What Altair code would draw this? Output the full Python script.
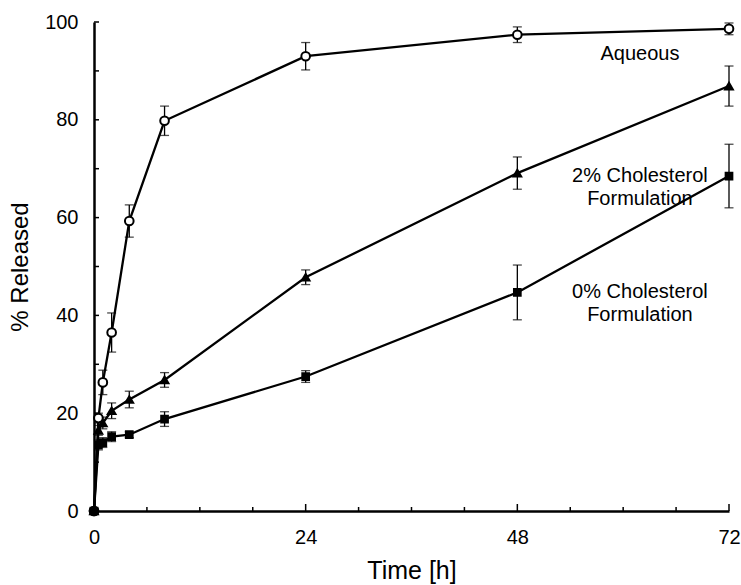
import altair as alt
import pandas as pd

# ---- data ----
times = [0, 0.5, 1, 2, 4, 8, 24, 48, 72]
series_names = ["Aqueous", "2% Cholesterol Formulation", "0% Cholesterol Formulation"]
aqueous = [0, 19.0, 26.3, 36.5, 59.3, 79.8, 93.0, 97.4, 98.6]
aqueous_err = [0, 1.0, 2.5, 4.0, 3.3, 3.0, 2.8, 1.6, 1.2]
chol2 = [0, 16.5, 18.0, 20.5, 22.8, 26.8, 47.8, 69.1, 86.9]
chol2_err = [0, 1.0, 1.2, 1.6, 1.7, 1.5, 1.5, 3.3, 4.1]
chol0 = [0, 13.5, 14.0, 15.2, 15.6, 18.8, 27.5, 44.7, 68.5]
chol0_err = [0, 1.0, 1.0, 1.0, 0.6, 1.5, 1.2, 5.6, 6.5]

x_tick_values = [0, 24, 48, 72]
x_minor = [6, 12, 18, 30, 36, 42, 54, 60, 66]
x_major = [24, 48, 72]
y_label_values = [0, 20, 40, 60, 80, 100]
y_minor = [10, 20, 30, 40, 50, 60, 70, 80, 90, 100]

ann_text = ["Aqueous", "2% Cholesterol\nFormulation", "0% Cholesterol\nFormulation"]
ann_t = [61.9, 61.9, 61.9]
ann_v = [93.5, 68.6, 44.8]

rows = []
for name, vals, errs in zip(series_names, [aqueous, chol2, chol0],
                            [aqueous_err, chol2_err, chol0_err]):
    for t, v, e in zip(times, vals, errs):
        rows.append({"series": name, "t": t, "v": v, "lo": v - e, "hi": v + e, "e": e})
df = pd.DataFrame(rows)
df_err = df[df["e"] > 0]

xs = alt.Scale(domain=[0, 72], nice=False, zero=False)
ys = alt.Scale(domain=[0, 100], nice=False)
FONT = "Liberation Sans"

x_enc = alt.X("t:Q", scale=xs, title="Time [h]",
              axis=alt.Axis(values=x_tick_values, ticks=False, grid=False,
                            domainColor="black", domainWidth=2.5,
                            labelFontSize=20, labelFont=FONT, labelColor="black",
                            labelPadding=16, titleFontSize=25, titleFont=FONT,
                            titleFontWeight="normal", titleColor="black",
                            titlePadding=11, labelFlush=False))
y_enc = alt.Y("v:Q", scale=ys, title="% Released",
              axis=alt.Axis(values=y_label_values, ticks=False, grid=False,
                            domainColor="black", domainWidth=2.5,
                            labelFontSize=20, labelFont=FONT, labelColor="black",
                            labelPadding=16, titleFontSize=24, titleFont=FONT,
                            titleFontWeight="normal", titleColor="black",
                            titlePadding=12, labelFlush=False))

color_scale = alt.Scale(domain=series_names, range=["black", "black", "black"])
shape_scale = alt.Scale(domain=series_names, range=["circle", "triangle-up", "square"])
fill_scale = alt.Scale(domain=series_names, range=["white", "black", "black"])
size_scale = alt.Scale(domain=series_names, range=[75, 45, 45])

base = alt.Chart(df)

lines = base.mark_line(strokeWidth=2.3, color="black").encode(
    x=x_enc, y=y_enc, detail="series:N")

err_rules = alt.Chart(df_err).mark_rule(strokeWidth=1.3, color="black").encode(
    x=alt.X("t:Q", scale=xs), y=alt.Y("lo:Q", scale=ys), y2="hi:Q")
cap_lo = alt.Chart(df_err).mark_tick(orient="horizontal", size=9, thickness=1.3,
                                     color="black").encode(
    x=alt.X("t:Q", scale=xs), y=alt.Y("lo:Q", scale=ys))
cap_hi = alt.Chart(df_err).mark_tick(orient="horizontal", size=9, thickness=1.3,
                                     color="black").encode(
    x=alt.X("t:Q", scale=xs), y=alt.Y("hi:Q", scale=ys))

points = base.mark_point(strokeWidth=2, opacity=1).encode(
    x=alt.X("t:Q", scale=xs), y=alt.Y("v:Q", scale=ys),
    shape=alt.Shape("series:N", scale=shape_scale, legend=None),
    fill=alt.Fill("series:N", scale=fill_scale, legend=None),
    stroke=alt.Stroke("series:N", scale=color_scale, legend=None),
    size=alt.Size("series:N", scale=size_scale, legend=None))

origin = alt.Chart(pd.DataFrame({"t": [0], "v": [0]})).mark_circle(
    size=110, color="black", opacity=1).encode(
    x=alt.X("t:Q", scale=xs), y=alt.Y("v:Q", scale=ys))

xminor = alt.Chart(pd.DataFrame({"t": x_minor})).mark_rule(
    color="black", strokeWidth=1.5).encode(
    x=alt.X("t:Q", scale=xs), y=alt.value(489), y2=alt.value(485))
xmajor = alt.Chart(pd.DataFrame({"t": x_major})).mark_rule(
    color="black", strokeWidth=1.5).encode(
    x=alt.X("t:Q", scale=xs), y=alt.value(489), y2=alt.value(482))
yminor = alt.Chart(pd.DataFrame({"v": y_minor})).mark_rule(
    color="black", strokeWidth=1.5).encode(
    y=alt.Y("v:Q", scale=ys), x=alt.value(0), x2=alt.value(5))

ann = alt.Chart(pd.DataFrame({"t": ann_t, "v": ann_v, "txt": ann_text})).mark_text(
    font=FONT, fontSize=20, color="black", align="center", baseline="middle",
    lineBreak="\n", lineHeight=23).encode(
    x=alt.X("t:Q", scale=xs), y=alt.Y("v:Q", scale=ys), text="txt:N")

chart = alt.layer(lines, err_rules, cap_lo, cap_hi, points, origin,
                  xminor, xmajor, yminor, ann).properties(
    width=635, height=489,
    padding={"left": 94, "top": 22, "right": 12, "bottom": 74},
    autosize=alt.AutoSizeParams(type="none"),
    background="white",
).configure_view(stroke=None)

chart.save("out.html", embed_options={"renderer": "svg", "actions": False})
